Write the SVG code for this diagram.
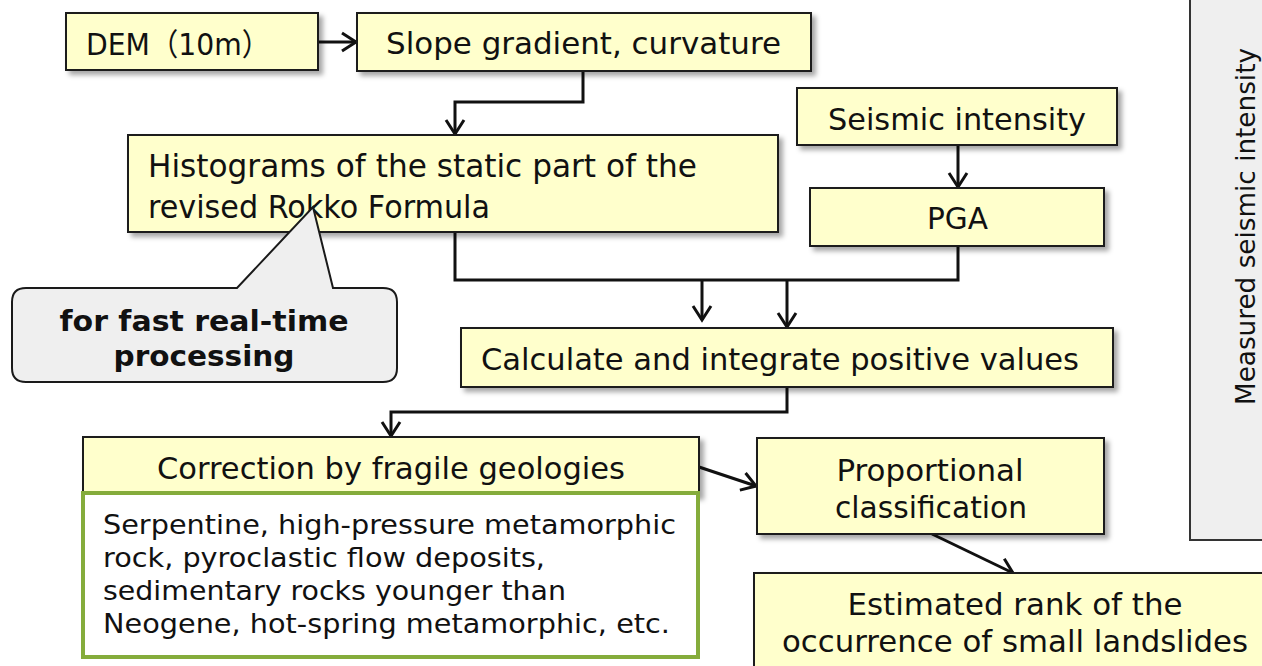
<svg xmlns="http://www.w3.org/2000/svg" width="1262" height="666" viewBox="0 0 1262 666">
<defs>
<filter id="sh" x="-10%" y="-20%" width="130%" height="150%">
<feDropShadow dx="4" dy="4" stdDeviation="2.5" flood-color="#000" flood-opacity="0.35"/>
</filter>
<marker id="ah" markerUnits="userSpaceOnUse" markerWidth="22" markerHeight="22" refX="14" refY="9" orient="auto" overflow="visible">
<path d="M0,0 L14,9 L0,18" fill="none" stroke="#111" stroke-width="3"/>
</marker>
<style>
.box{fill:#ffffcc;stroke:#1a1a1a;stroke-width:2;filter:url(#sh)}
.t{font-family:"DejaVu Sans","Noto Sans CJK JP",sans-serif;fill:#111;font-size:31px}
.tc{text-anchor:middle}
.h{font-size:32px}
.s{font-size:27px}
.b{font-weight:bold;font-size:29px}
.c{fill:none;stroke:#111;stroke-width:3}
.ca{fill:none;stroke:#111;stroke-width:3;marker-end:url(#ah)}
</style>
</defs>
<rect width="1262" height="666" fill="#fff"/>

<g id="panel">
<rect x="1190" y="-5" width="80" height="545" fill="#efefef" stroke="#333" stroke-width="2"/>
<text class="t" style="font-size:26px" transform="translate(1255,405) rotate(-90)" textLength="357" lengthAdjust="spacingAndGlyphs">Measured seismic intensity</text>
</g>

<g id="connectors">
<path class="ca" d="M318,42 H356"/>
<path class="ca" d="M583,71 V102 H455 V134"/>
<path class="ca" d="M958,145 V187"/>
<path class="c" d="M455,232 V280 H958 V246"/>
<path class="ca" d="M702,280 V320"/>
<path class="ca" d="M787,280 V327"/>
<path class="ca" d="M787,387 V412 H391 V436"/>
<path class="ca" d="M699,467 L756,486"/>
<path class="ca" d="M932,534 L1013,573"/>
</g>

<g id="dem">
<rect class="box" x="66" y="13" width="252" height="57"/>
<text class="t" x="86" y="55" textLength="184" lengthAdjust="spacingAndGlyphs">DEM（10m）</text>
</g>

<g id="slope">
<rect class="box" x="357" y="13" width="454" height="58"/>
<text class="t" x="386" y="54" textLength="395" lengthAdjust="spacingAndGlyphs">Slope gradient, curvature</text>
</g>

<g id="seismic">
<rect class="box" x="797" y="88" width="320" height="57"/>
<text class="t" x="828" y="130" textLength="258" lengthAdjust="spacingAndGlyphs">Seismic intensity</text>
</g>

<g id="pga">
<rect class="box" x="810" y="188" width="294" height="58"/>
<text class="t" x="927" y="229" textLength="61" lengthAdjust="spacingAndGlyphs">PGA</text>
</g>

<g id="histogram">
<rect class="box" x="128" y="135" width="650" height="97"/>
<text class="t h" x="148" y="177" textLength="549" lengthAdjust="spacingAndGlyphs">Histograms of the static part of the</text>
<text class="t h" x="148" y="218" textLength="342" lengthAdjust="spacingAndGlyphs">revised Rokko Formula</text>
</g>

<g id="callout">
<path d="M26,288 H237 L313,207 L333,288 H383 Q397,288 397,302 V368 Q397,382 383,382 H26 Q12,382 12,368 V302 Q12,288 26,288 Z" fill="#efefef" stroke="#1a1a1a" stroke-width="2"/>
<text class="t b tc" x="204" y="331" textLength="289" lengthAdjust="spacingAndGlyphs">for fast real-time</text>
<text class="t b tc" x="204" y="366" textLength="181" lengthAdjust="spacingAndGlyphs">processing</text>
</g>

<g id="calculate">
<rect class="box" x="461" y="328" width="652" height="59"/>
<text class="t" x="481" y="370" textLength="598" lengthAdjust="spacingAndGlyphs">Calculate and integrate positive values</text>
</g>

<g id="correction">
<rect class="box" x="83" y="437" width="616" height="58"/>
<text class="t" x="157" y="479" textLength="468" lengthAdjust="spacingAndGlyphs">Correction by fragile geologies</text>
</g>

<g id="geologies">
<rect x="83" y="493" width="615" height="164" fill="#fff" stroke="#85ac3b" stroke-width="4"/>
<text class="t s" x="103" y="534" textLength="573" lengthAdjust="spacingAndGlyphs">Serpentine, high-pressure metamorphic</text>
<text class="t s" x="103" y="567" textLength="442" lengthAdjust="spacingAndGlyphs">rock, pyroclastic flow deposits,</text>
<text class="t s" x="103" y="600" textLength="463" lengthAdjust="spacingAndGlyphs">sedimentary rocks younger than</text>
<text class="t s" x="103" y="633" textLength="567" lengthAdjust="spacingAndGlyphs">Neogene, hot-spring metamorphic, etc.</text>
</g>

<g id="proportional">
<rect class="box" x="757" y="438" width="347" height="96"/>
<text class="t tc" x="930" y="481" textLength="187" lengthAdjust="spacingAndGlyphs">Proportional</text>
<text class="t tc" x="931" y="518" textLength="192" lengthAdjust="spacingAndGlyphs">classification</text>
</g>

<g id="estimated">
<rect class="box" x="754" y="573" width="520" height="100"/>
<text class="t tc" x="1015" y="615" textLength="335" lengthAdjust="spacingAndGlyphs">Estimated rank of the</text>
<text class="t tc" x="1015" y="652" textLength="466" lengthAdjust="spacingAndGlyphs">occurrence of small landslides</text>
</g>
</svg>
